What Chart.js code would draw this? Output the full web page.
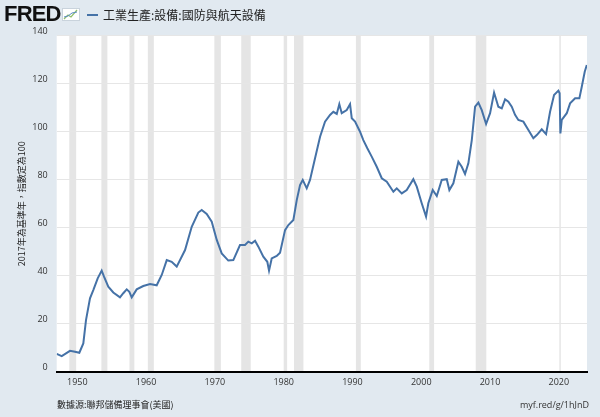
<!DOCTYPE html>
<html>
<head>
<meta charset="utf-8">
<script src="https://cdn.jsdelivr.net/npm/chart.js"></script>
<style>
body { margin: 0; background: #e1e9f0; }
#wrap { position: relative; width: 600px; height: 417px; background: #e1e9f0; overflow: hidden; }
#logo { position: absolute; left: 4px; top: 2px; font: bold 22px "Liberation Sans", Arial, sans-serif; letter-spacing: -0.8px; color: #111; line-height: 24px; }
#icon { position: absolute; left: 62px; top: 8px; }
#legline { position: absolute; left: 87px; top: 14px; width: 11px; height: 2px; background: #4572a7; }
#ttl { position: absolute; left: 103px; top: 6px; font: 12px "Noto Sans CJK TC", sans-serif; color: #222; }
#src { position: absolute; left: 57px; top: 398px; font: 9px "Noto Sans CJK TC", sans-serif; color: #222; }
#lnk { position: absolute; right: 11px; top: 398px; font: 9px "Open Sans", sans-serif; color: #333; }
</style>
</head>
<body>
<div id="wrap">
  <canvas id="fred" width="600" height="417"></canvas>
  <div id="logo">FRED</div>
  <svg id="icon" width="18" height="13" viewBox="0 0 18 13">
    <rect x="0.5" y="0.5" width="17" height="12" fill="#fff" stroke="#c9d3dc"/>
    <polyline points="2,11 6,7 9,9 15,2" fill="none" stroke="#8fbf6a" stroke-width="1.2"/>
    <polyline points="2,9 6,8 10,5 15,4" fill="none" stroke="#5a8ac0" stroke-width="1"/>
  </svg>
  <div id="legline"></div>
  <div id="ttl">工業生產:設備:國防與航天設備</div>
  <div id="src">數據源:聯邦儲備理事會(美國)</div>
  <div id="lnk">myf.red/g/1hJnD</div>
</div>
<script>
// time (decimal year) and index value
var dates = [1947.0, 1947.73, 1948.93, 1949.66, 1950.29, 1950.87, 1951.26, 1951.84, 1952.32, 1952.96,
  1953.54, 1953.88, 1954.5, 1955.23, 1956.2, 1956.68, 1957.18, 1957.56, 1957.91, 1958.63,
  1959.59, 1960.57, 1961.54, 1962.27, 1963.0, 1963.72, 1964.45, 1965.66, 1966.63, 1967.59,
  1968.08, 1968.81, 1969.54, 1970.27, 1970.99, 1971.95, 1972.68, 1973.65, 1974.38, 1974.86,
  1975.36, 1975.84, 1976.32, 1977.04, 1977.62, 1977.87, 1978.26, 1978.99, 1979.47, 1980.2,
  1980.68, 1981.41, 1981.9, 1982.38, 1982.77, 1983.35, 1983.83, 1984.56, 1985.29, 1986.01,
  1986.74, 1987.22, 1987.72, 1988.09, 1988.44, 1989.17, 1989.65, 1989.9, 1990.38, 1991.1,
  1991.58, 1992.16, 1992.8, 1993.53, 1994.26, 1994.99, 1995.95, 1996.44, 1997.17, 1997.89,
  1998.85, 1999.35, 2000.07, 2000.7, 2001.03, 2001.67, 2002.26, 2002.98, 2003.71, 2004.09,
  2004.67, 2005.4, 2005.89, 2006.37, 2006.85, 2007.35, 2007.83, 2008.31, 2008.8, 2009.43,
  2010.01, 2010.59, 2011.21, 2011.71, 2012.19, 2012.67, 2013.16, 2013.64, 2014.12, 2014.85,
  2015.58, 2016.3, 2016.8, 2017.52, 2018.15, 2018.73, 2019.31, 2019.94, 2020.12, 2020.23,
  2020.43, 2021.16, 2021.64, 2022.37, 2022.99, 2023.34, 2023.77, 2024.07];
var values = [7.4, 6.5, 8.7, 8.3, 7.9, 11.8, 21.5, 30.6, 34, 38.9,
  42.1, 39.6, 35.4, 33, 31, 32.7, 34.3, 33.3, 31, 34.3,
  35.7, 36.5, 36, 40.3, 46.5, 45.8, 43.8, 50.7, 60.4, 66.3,
  67.4, 65.7, 62.5, 54.9, 49.3, 46.3, 46.5, 52.8, 52.8, 54.2,
  53.5, 54.6, 52.1, 47.9, 45.8, 42.1, 47.2, 48.2, 49.6, 59,
  61.1, 63.2, 71.5, 77.8, 79.9, 76.4, 79.9, 88.9, 97.9, 104.2,
  107, 108.3, 107.4, 111.5, 107.7, 109, 111.5, 105.6, 104.2, 100,
  96.5, 93.1, 89.6, 85.4, 80.6, 79.2, 75, 76.4, 74.3, 75.7,
  80.2, 77.1, 70.2, 64.6, 70.2, 75.7, 73.2, 79.9, 80.2, 75.7,
  78.5, 87.5, 85.4, 82.4, 86.8, 96.5, 110.4, 112.1, 109, 103.2,
  107.7, 116.3, 110.4, 109.7, 113.5, 112.5, 110.4, 107, 104.9, 104.2,
  100.7, 97.3, 98.6, 101, 99, 108.3, 115.3, 117.1, 116, 99.3,
  104.9, 107.7, 111.8, 113.9, 113.9, 118.7, 125, 127.8];

// NBER recessions (decimal year)
var recStart = [1948.83, 1953.5, 1957.58, 1960.25, 1969.92, 1973.83, 1980.0, 1981.5, 1990.5, 2001.17, 2007.92, 2020.08];
var recEnd   = [1949.83, 1954.37, 1958.29, 1961.12, 1970.87, 1975.21, 1980.5, 1982.87, 1991.21, 2001.87, 2009.46, 2020.29];

var xTicks = [1950, 1960, 1970, 1980, 1990, 2000, 2010, 2020];

var points = dates.map(function(d, i) { return { x: d, y: values[i] }; });

var backdrop = {
  id: 'backdrop',
  beforeDraw: function(chart) {
    var ctx = chart.ctx, a = chart.chartArea, xs = chart.scales.x;
    ctx.save();
    ctx.fillStyle = '#ffffff';
    ctx.fillRect(a.left, a.top, a.right - a.left, a.bottom - a.top);
    ctx.fillStyle = '#e5e5e5';
    for (var i = 0; i < recStart.length; i++) {
      var x1 = xs.getPixelForValue(recStart[i]);
      var x2 = xs.getPixelForValue(recEnd[i]);
      ctx.fillRect(x1, a.top, x2 - x1, a.bottom - a.top);
    }
    ctx.restore();
  }
};

var config = {
  type: 'line',
  data: {
    datasets: [{
      data: points,
      borderColor: '#4572a7',
      borderWidth: 2,
      pointRadius: 0,
      tension: 0,
      fill: false
    }]
  },
  options: {
    responsive: false,
    animation: false,
    layout: { padding: { top: 35.7, right: 13, bottom: 25.3, left: 0 } },
    plugins: { legend: { display: false }, tooltip: { enabled: false } },
    scales: {
      x: {
        type: 'linear',
        min: 1947,
        max: 2024.1,
        afterBuildTicks: function(scale) {
          scale.ticks = xTicks.map(function(v) { return { value: v }; });
        },
        afterFit: function(scale) { scale.height = 20; },
        grid: { display: false, drawTicks: false },
        border: { display: true, color: '#000', width: 2 },
        ticks: {
          padding: 5,
          maxRotation: 0,
          color: '#333',
          font: { family: 'Open Sans', size: 9 },
          callback: function(v) { return String(v); }
        }
      },
      y: {
        min: 0,
        max: 140,
        afterFit: function(scale) { scale.width = 56.7; },
        grid: { color: '#e6e6e6', lineWidth: 1, drawTicks: false },
        border: { display: false },
        ticks: {
          stepSize: 20,
          padding: 9,
          labelOffset: -4,
          color: '#333',
          font: { family: 'Open Sans', size: 9 }
        },
        title: {
          display: true,
          text: '2017年為基準年，指數定為100',
          color: '#222',
          padding: { top: 16, bottom: 0 },
          font: { family: 'Noto Sans CJK TC', size: 9 }
        }
      }
    }
  },
  plugins: [backdrop]
};

window.onload = function() {
  var ctx = document.getElementById('fred').getContext('2d');
  window.myLine = new Chart(ctx, config);
};
</script>
</body>
</html>
